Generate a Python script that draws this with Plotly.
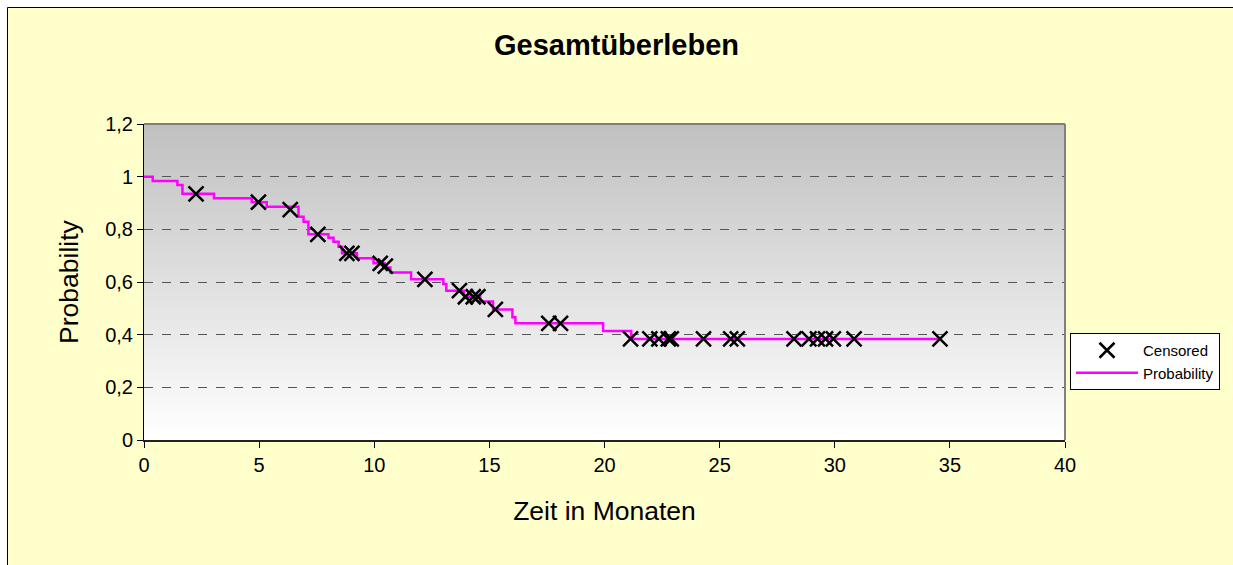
import plotly.graph_objects as go

# Kaplan-Meier step curve (months, survival probability)
step_time = [0, 0.38, 1.45, 1.67, 3.04, 4.68, 5.33, 6.71, 6.93, 7.14, 8.01, 8.23,
             8.45, 8.6, 9.25, 9.97, 10.45, 10.7, 11.6, 13.0, 13.13, 13.9, 14.6,
             15.16, 16.0, 16.13, 19.94, 21.16, 34.57]
step_prob = [1.0, 0.984, 0.968, 0.935, 0.918, 0.903, 0.886, 0.848, 0.829, 0.781,
             0.768, 0.753, 0.734, 0.709, 0.69, 0.671, 0.655, 0.636, 0.61, 0.592,
             0.567, 0.544, 0.526, 0.496, 0.466, 0.443, 0.414, 0.384, 0.384]

# censored observations
cens_time = [2.26, 4.97, 6.35, 7.55, 8.81, 9.03, 10.26, 10.48, 12.2, 13.7, 13.96,
             14.3, 14.5, 15.26, 17.58, 18.09, 21.13, 21.97, 22.36, 22.77, 22.9,
             24.3, 25.48, 25.77, 28.23, 28.88, 29.25, 29.6, 29.94, 30.84, 34.57]
cens_prob = [0.935, 0.903, 0.875, 0.781, 0.709, 0.709, 0.671, 0.66, 0.61, 0.567,
             0.544, 0.544, 0.544, 0.496, 0.443, 0.443] + [0.384] * 15

y_ticks = [0, 0.2, 0.4, 0.6, 0.8, 1.0, 1.2]
y_labels = ["0", "0,2", "0,4", "0,6", "0,8", "1", "1,2"]
x_ticks = [0, 5, 10, 15, 20, 25, 30, 35, 40]

W, H = 1233, 565
L, R, T, B = 144, 168, 124, 125
pw, ph = W - L - R, H - T - B

fig = go.Figure()
fig.add_trace(go.Scatter(
    x=step_time, y=step_prob, mode="lines", name="Probability",
    line=dict(color="#FF00FF", width=2.5, shape="hv"), legendrank=2,
))
fig.add_trace(go.Scatter(
    x=cens_time, y=cens_prob, mode="markers", name="Censored",
    marker=dict(symbol="x-thin", size=15, line=dict(color="black", width=2.5)),
    legendrank=1,
))

# outer chart frame: yellow fill, black line only on top and left
fx0, fx1 = (7.5 - L) / pw, (W + 50 - L) / pw
fy0, fy1 = -(B + 50) / ph, (H - 7.5 - B) / ph
shapes = [
    dict(type="rect", xref="paper", yref="paper", x0=fx0, x1=fx1, y0=fy0,
         y1=fy1, line=dict(width=0), fillcolor="#FFFFCC", layer="below"),
    dict(type="line", xref="paper", yref="paper", x0=fx0, x1=fx1, y0=fy1,
         y1=fy1, line=dict(color="black", width=1), layer="below"),
    dict(type="line", xref="paper", yref="paper", x0=fx0, x1=fx0, y0=fy0,
         y1=fy1, line=dict(color="black", width=1), layer="below"),
]
# gray-to-white gradient in the plot area (bands overlap to avoid seams)
n = 160
for i in range(n):
    f = i / (n - 1)
    g = int(round(255 - (255 - 192) * f))
    c = f"rgb({g},{g},{g})"
    shapes.append(dict(type="rect", xref="x domain", yref="y domain",
                       x0=0, x1=1, y0=i / n, y1=min(1, (i + 2) / n),
                       line=dict(width=0), fillcolor=c, layer="below"))
# top / right border of plot area
shapes.append(dict(type="line", xref="x domain", yref="y domain",
                   x0=0, x1=1, y0=1, y1=1, line=dict(color="#808080", width=2)))
shapes.append(dict(type="line", xref="x domain", yref="y domain",
                   x0=1, x1=1, y0=0, y1=1, line=dict(color="#808080", width=2)))

fig.update_layout(
    width=W, height=H,
    margin=dict(l=L, r=R, t=T, b=B),
    paper_bgcolor="white", plot_bgcolor="white",
    font=dict(family="Liberation Sans, Arial", color="black"),
    shapes=shapes,
    title=dict(text="<b>Gesamtüberleben</b>", x=0.5, xref="container",
               y=1 - 45 / H, yref="container", yanchor="middle",
               font=dict(size=29)),
    showlegend=True,
    legend=dict(x=(1070 - L) / pw, y=(H - B - 333) / ph, xanchor="left",
                yanchor="top", bgcolor="white", bordercolor="black",
                borderwidth=1, font=dict(size=15), itemwidth=62,
                tracegroupgap=0),
    xaxis=dict(range=[0, 40], tickvals=x_ticks, ticks="outside", ticklen=6,
               tickcolor="black", showgrid=False, zeroline=False,
               showline=True, linecolor="#222", linewidth=2,
               tickfont=dict(size=20),
               title=dict(text="Zeit in Monaten", font=dict(size=26.5),
                          standoff=26)),
    yaxis=dict(range=[0, 1.2], tickvals=y_ticks, ticktext=y_labels,
               ticks="outside", ticklen=6, tickcolor="black",
               showgrid=True, gridcolor="#555555", griddash="dash",
               gridwidth=1, zeroline=False,
               showline=True, linecolor="black", linewidth=1,
               tickfont=dict(size=20),
               title=dict(text="Probability", font=dict(size=26.5),
                          standoff=18)),
)

fig.write_html("out.html", config={"displayModeBar": False},
               post_script="document.body.style.margin='0';"
                           "document.body.style.overflow='hidden';")
